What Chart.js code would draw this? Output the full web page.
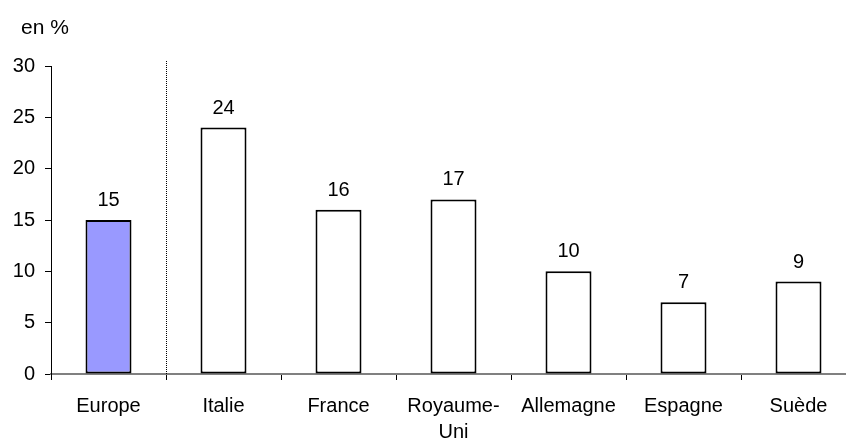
<!DOCTYPE html>
<html>
<head>
<meta charset="utf-8">
<script src="https://cdn.jsdelivr.net/npm/chart.js@4"></script>
<style>
  html, body { margin: 0; padding: 0; background: #fff; overflow: hidden; }
  #wrap { width: 860px; height: 438px; }
</style>
</head>
<body>
<div id="wrap"><canvas id="chart" width="860" height="438"></canvas></div>
<script>
// data
const categories = ["Europe", "Italie", "France", ["Royaume-", "Uni"], "Allemagne", "Espagne", "Suède"];
const values = [15, 24, 16, 17, 10, 7, 9];
const barColors = ["#9999FF", "#FFFFFF", "#FFFFFF", "#FFFFFF", "#FFFFFF", "#FFFFFF", "#FFFFFF"];
const yTicks = [0, 5, 10, 15, 20, 25, 30];
const unitLabel = "en %";

const FONT = "'Liberation Sans', Arial, sans-serif";

// labels above bars, dotted separator after Europe, unit text
const extras = {
    id: "extras",
    afterDatasetsDraw(chart) {
        const ctx = chart.ctx;
        const meta = chart.getDatasetMeta(0);
        const x = chart.scales.x;
        const area = chart.chartArea;

        ctx.save();
        ctx.font = "20px " + FONT;
        ctx.fillStyle = "#000";
        ctx.textAlign = "center";
        ctx.textBaseline = "alphabetic";
        meta.data.forEach((bar, i) => {
            ctx.fillText(String(values[i]), bar.x, bar.y - 14);
        });

        // dotted line between Europe and the countries
        const sepX = Math.round((x.getPixelForValue(0) + x.getPixelForValue(1)) / 2) + 0.5;
        ctx.strokeStyle = "#000";
        ctx.lineWidth = 1;
        ctx.setLineDash([1, 1]);
        ctx.beginPath();
        ctx.moveTo(sepX, area.top - 5);
        ctx.lineTo(sepX, area.bottom);
        ctx.stroke();
        ctx.setLineDash([]);

        ctx.textAlign = "left";
        ctx.font = "21px " + FONT;
        ctx.fillText(unitLabel, 21, 34);
        ctx.restore();
    }
};

new Chart(document.getElementById("chart"), {
    type: "bar",
    data: {
        labels: categories,
        datasets: [{
            data: values,
            backgroundColor: barColors,
            borderColor: "#000",
            borderWidth: 2,
            borderSkipped: false,
            barPercentage: 0.4,
            categoryPercentage: 1
        }]
    },
    options: {
        responsive: false,
        animation: false,
        layout: { padding: { top: 66, right: 4, left: 0, bottom: 0 } },
        plugins: { legend: { display: false }, tooltip: { enabled: false } },
        scales: {
            x: {
                afterFit: (s) => { s.height = 64; },
                grid: { display: true, drawOnChartArea: false, drawTicks: true, tickLength: 6, color: "#000", offset: true },
                border: { color: "#808080", width: 2 },
                ticks: { color: "#000", font: { size: 20, family: FONT, lineHeight: 1.3 }, padding: 13, maxRotation: 0, autoSkip: false }
            },
            y: {
                min: 0,
                max: 30,
                afterFit: (s) => { s.width = 51; },
                afterBuildTicks: (s) => { s.ticks = yTicks.map(v => ({ value: v })); },
                grid: { display: true, drawOnChartArea: false, drawTicks: true, tickLength: 6, color: "#000" },
                border: { color: "#000", width: 1 },
                ticks: { color: "#000", font: { size: 20, family: FONT }, padding: 10 }
            }
        }
    },
    plugins: [extras]
});
</script>
</body>
</html>
